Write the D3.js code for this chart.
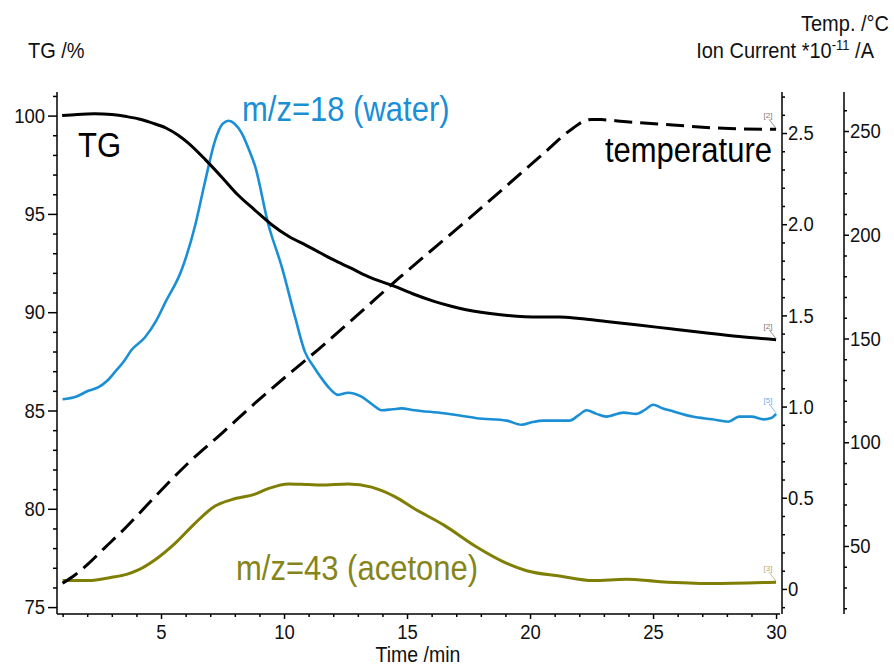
<!DOCTYPE html>
<html>
<head>
<meta charset="utf-8">
<script src="https://cdn.jsdelivr.net/npm/d3@7"></script>
<style>
  html, body { margin: 0; padding: 0; background: #fff; }
  svg { display: block; font-family: "Liberation Sans", Arial, sans-serif; }
  .axis path, .axis line { stroke: #000; stroke-width: 1.5; }
  .axis text { font-size: 18.5px; fill: #111; font-family: "Liberation Sans", Arial, sans-serif; }
</style>
</head>
<body>
<svg id="chart" width="894" height="668"></svg>
<script>
// Thermogravimetry with coupled mass spectrometry: mass loss, furnace temperature
// and ion currents for water (m/z=18) and acetone (m/z=43) against time.

// TG mass signal, %
const tgTime  = [0.98, 1.6, 2.3, 3.0, 3.6, 4.1, 4.6, 5.2, 5.7, 6.1, 6.8, 7.5, 8.1, 8.8, 9.5, 10.2, 10.9, 11.5, 12.0, 12.7, 13.4, 14.5, 15.2, 16.1, 16.8, 17.4, 18.8, 20.4, 21.2, 22.0, 23.1, 24.4, 25.8, 27.1, 28.5, 30.0];
const tgValue = [100.0, 100.06, 100.09, 100.05, 99.95, 99.83, 99.64, 99.37, 99.0, 98.61, 97.76, 96.83, 96.0, 95.21, 94.45, 93.85, 93.4, 93.0, 92.67, 92.25, 91.82, 91.31, 90.95, 90.55, 90.3, 90.12, 89.87, 89.75, 89.76, 89.68, 89.53, 89.35, 89.14, 88.95, 88.76, 88.6];

// Furnace temperature, °C
const tempTime  = [1.0, 1.5, 2.05, 2.7, 3.4, 4.1, 4.76, 6.1, 7.47, 8.82, 10.17, 11.4, 12.9, 14.7, 17.4, 20.4, 21.76, 22.2, 22.5, 22.9, 23.8, 25.8, 27.86, 30.0];
const tempValue = [32, 36, 41.5, 49, 56.9, 65.5, 73.8, 89.9, 104.3, 118.8, 132.6, 144.8, 160.4, 179.4, 206.6, 237.6, 251.5, 254.8, 255.6, 255.5, 254.6, 252.9, 251.3, 250.8];

// Ion current m/z=18 (water), 10^-11 A
const waterTime  = [1.0, 1.54, 2.05, 2.46, 2.8, 3.13, 3.5, 3.8, 4.35, 4.8, 5.17, 5.84, 6.4, 6.8, 7.2, 7.5, 7.74, 8.0, 8.28, 8.6, 8.82, 9.36, 9.9, 10.45, 10.85, 11.2, 11.5, 11.85, 12.2, 12.6, 13.15, 13.6, 13.96, 14.4, 14.77, 15.3, 16.5, 17.2, 17.83, 19.05, 19.66, 20.1, 20.54, 21.6, 21.95, 22.3, 22.7, 23.1, 23.8, 24.3, 24.7, 25.0, 25.4, 25.7, 26.6, 27.4, 28.06, 28.5, 29.0, 29.5, 29.8, 30.0];
const waterValue = [1.04, 1.054, 1.087, 1.106, 1.14, 1.19, 1.25, 1.31, 1.38, 1.47, 1.57, 1.75, 2.0, 2.24, 2.46, 2.55, 2.567, 2.55, 2.5, 2.4, 2.32, 2.0, 1.77, 1.49, 1.3, 1.22, 1.16, 1.1, 1.064, 1.076, 1.054, 1.01, 0.98, 0.985, 0.99, 0.98, 0.963, 0.95, 0.936, 0.923, 0.9, 0.915, 0.923, 0.923, 0.95, 0.98, 0.96, 0.945, 0.967, 0.96, 0.985, 1.01, 0.99, 0.978, 0.945, 0.93, 0.917, 0.945, 0.945, 0.93, 0.937, 0.96];

// Ion current m/z=43 (acetone), 10^-11 A
const acetoneTime  = [1.0, 2.05, 3.0, 3.6, 4.08, 4.76, 5.57, 6.38, 7.2, 7.87, 8.82, 9.36, 10.17, 11.0, 11.5, 12.6, 13.56, 14.5, 15.3, 16.5, 17.83, 18.9, 19.86, 21.2, 22.57, 23.9, 25.3, 27.3, 30.0];
const acetoneValue = [0.046, 0.046, 0.064, 0.08, 0.104, 0.16, 0.25, 0.36, 0.455, 0.49, 0.52, 0.55, 0.576, 0.572, 0.57, 0.576, 0.558, 0.506, 0.44, 0.35, 0.23, 0.15, 0.1, 0.071, 0.046, 0.053, 0.04, 0.03, 0.037];

// Axis ticks
const timeTicks = [5, 10, 15, 20, 25, 30];
const tgTicks   = [75, 80, 85, 90, 95, 100];
const ionTicks  = [0, 0.5, 1.0, 1.5, 2.0, 2.5];
const tempTicks = [50, 100, 150, 200, 250];

const svg = d3.select("#chart");
const plotTop = 92, plotBottom = 613, plotLeft = 57, plotRight = 780;
const ionAxisX = 782, tempAxisX = 844;
const stretch = 1.14; // glyphs are drawn slightly taller than wide

const x      = d3.scaleLinear().domain([0.772, 30.16]).range([plotLeft, plotRight]);
const yTG    = d3.scaleLinear().domain([74.7, 101.2]).range([plotBottom, plotTop]);
const yIon   = d3.scaleLinear().domain([-0.132, 2.725]).range([plotBottom, plotTop]);
const yTemp  = d3.scaleLinear().domain([17.7, 268.8]).range([plotBottom, plotTop]);

// Minor ticks
const timeMinor = d3.range(1, 31).filter(v => !timeTicks.includes(v));
const tgMinor   = d3.range(75, 102).filter(v => !tgTicks.includes(v));
const ionMinor  = d3.range(-1, 28).map(v => v / 10).filter(v => !ionTicks.some(t => Math.abs(t - v) < 1e-9));
const tempMinor = d3.range(20, 270, 10).filter(v => !tempTicks.includes(v));

function drawAxis(gen, transform) {
  return svg.append("g").attr("class", "axis").attr("transform", transform).call(gen);
}
// vertical stretch of a text element about a given y
function tall(sel, cy) {
  sel.attr("transform", `translate(0,${cy}) scale(1,${stretch}) translate(0,${-cy})`);
  return sel;
}

// Time axis
drawAxis(d3.axisBottom(x).tickValues(timeMinor).tickSize(3).tickFormat(""), `translate(0,${plotBottom + 1})`)
  .select(".domain").remove();
const xa = drawAxis(d3.axisBottom(x).tickValues(timeTicks).tickSize(5).tickFormat(d3.format("d")), `translate(0,${plotBottom + 1})`);
xa.select(".domain").attr("d", `M${plotLeft},0H${plotRight}`);
tall(xa.selectAll("text").attr("dy", "0.71em").attr("y", 10), 10);

// TG axis (left)
drawAxis(d3.axisLeft(yTG).tickValues(tgMinor).tickSize(4).tickFormat(""), `translate(${plotLeft},0)`)
  .select(".domain").remove();
const ya = drawAxis(d3.axisLeft(yTG).tickValues(tgTicks).tickSize(9).tickFormat(d3.format("d")), `translate(${plotLeft},0)`);
ya.select(".domain").attr("d", `M0,${plotTop}V${plotBottom + 1}`);
tall(ya.selectAll("text").attr("x", -12), 0);

// Ion current axis (right, inner)
drawAxis(d3.axisRight(yIon).tickValues(ionMinor).tickSize(3).tickFormat(""), `translate(${ionAxisX},0)`)
  .select(".domain").remove();
const ia = drawAxis(d3.axisRight(yIon).tickValues(ionTicks).tickSize(5)
  .tickFormat(d => d === 0 ? "0" : d3.format(".1f")(d)), `translate(${ionAxisX},0)`);
ia.select(".domain").attr("d", `M0,${plotTop}V${plotBottom + 1}`);
tall(ia.selectAll("text").attr("x", 6), 0);

// Temperature axis (right, outer)
drawAxis(d3.axisRight(yTemp).tickValues(tempMinor).tickSize(3).tickFormat(""), `translate(${tempAxisX},0)`)
  .select(".domain").remove();
const ta = drawAxis(d3.axisRight(yTemp).tickValues(tempTicks).tickSize(5).tickFormat(d3.format("d")), `translate(${tempAxisX},0)`);
ta.select(".domain").attr("d", `M0,${plotTop}V${plotBottom + 1}`);
tall(ta.selectAll("text").attr("x", 6), 0);

// Curves
function zip(ts, vs) { return ts.map((t, i) => [t, vs[i]]); }
function drawCurve(ts, vs, yScale, color, width, dash) {
  const line = d3.line().x(d => x(d[0])).y(d => yScale(d[1])).curve(d3.curveMonotoneX);
  const p = svg.append("path")
    .datum(zip(ts, vs))
    .attr("d", line)
    .attr("fill", "none")
    .attr("stroke", color)
    .attr("stroke-width", width)
    .attr("stroke-linejoin", "round");
  if (dash) p.attr("stroke-dasharray", dash);
  return p;
}

const blue = "#1a8fd6", olive = "#7f7f05";
drawCurve(acetoneTime, acetoneValue, yIon, olive, 3);
drawCurve(waterTime, waterValue, yIon, blue, 2.6);
drawCurve(tempTime, tempValue, yTemp, "#000", 3, "18,8");
drawCurve(tgTime, tgValue, yTG, "#000", 3);

// Curve end tags
function endTag(ts, vs, yScale, text, color) {
  const ex = x(ts[ts.length - 1]), ey = yScale(vs[vs.length - 1]);
  svg.append("line")
    .attr("x1", ex - 7).attr("y1", ey - 10).attr("x2", ex).attr("y2", ey - 1)
    .attr("stroke", color).attr("stroke-width", 0.8);
  svg.append("text")
    .attr("x", ex - 8).attr("y", ey - 11)
    .attr("text-anchor", "middle")
    .attr("font-size", 8)
    .attr("fill", color)
    .text(text);
}
endTag(tempTime, tempValue, yTemp, "[2]", "#777");
endTag(tgTime, tgValue, yTG, "[2]", "#777");
endTag(waterTime, waterValue, yIon, "[5]", "#6aaee6");
endTag(acetoneTime, acetoneValue, yIon, "[3]", "#b8a870");

// Curve names
const big = 31;
function label(xp, yp, size, color, txt, anchor) {
  const t = svg.append("text").attr("x", xp).attr("y", yp).attr("font-size", size)
    .attr("fill", color).attr("text-anchor", anchor || "start").text(txt);
  return tall(t, yp);
}
label(78, 157, big, "#000", "TG");
label(242, 121, big, blue, "m/z=18 (water)");
label(772, 162, big, "#000", "temperature", "end");
label(236, 580, big, "#85851a", "m/z=43 (acetone)");

// Axis titles
label(28, 58, 20, "#111", "TG /%");
label(889, 31, 20, "#111", "Temp. /°C", "end");
const ion = tall(svg.append("text").attr("x", 874).attr("y", 58).attr("text-anchor", "end")
  .attr("font-size", 20).attr("fill", "#111"), 58);
ion.append("tspan").text("Ion Current *10");
ion.append("tspan").attr("font-size", 13).attr("dy", -7).text("-11");
ion.append("tspan").attr("dy", 7).text(" /A");
label(418, 662, 19.5, "#111", "Time /min", "middle");
</script>
</body>
</html>
